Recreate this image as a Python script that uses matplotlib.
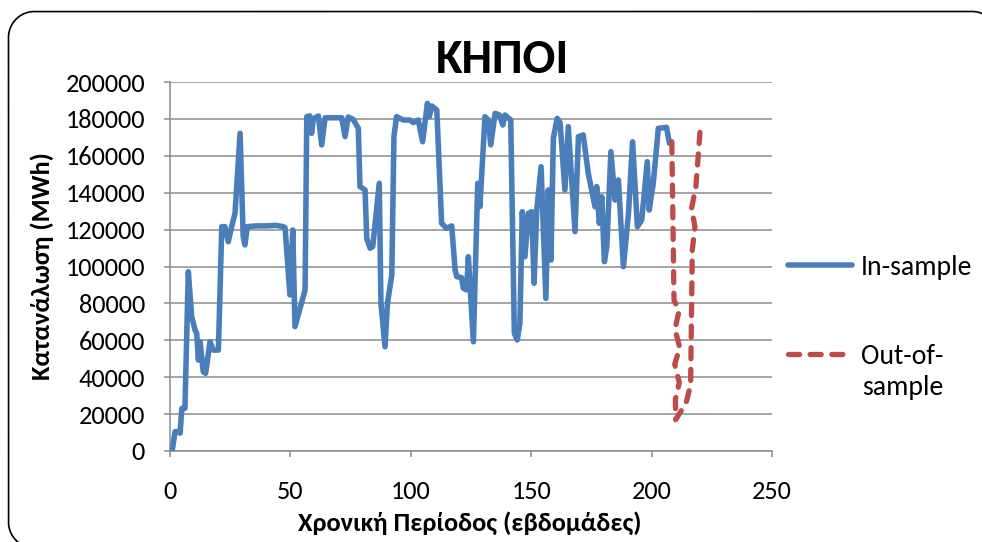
import numpy as np
import matplotlib
matplotlib.use("Agg")
import matplotlib.pyplot as plt
from matplotlib import font_manager
from matplotlib.lines import Line2D
from matplotlib.transforms import IdentityTransform

# ---- data ---------------------------------------------------------------
title = "ΚΗΠΟΙ"
x_label = "Χρονική Περίοδος (εβδομάδες)"
y_label = "Κατανάλωση (MWh)"
series_names = ["In-sample", "Out-of-", "sample"]

x_ticks = [0, 50, 100, 150, 200, 250]
y_ticks = [0, 20000, 40000, 60000, 80000, 100000, 120000, 140000,
           160000, 180000, 200000]

in_x = [1, 2.1, 3.5, 4.2, 4.9, 6.2, 7.6, 9.0, 10.4, 11.1, 11.8, 12.5, 13.8,
        14.8, 16.6, 18, 20.1, 21.5, 22.8, 24.2, 25.6, 27, 29.1, 30.4, 31.1,
        32.1, 36, 40, 44, 47, 47.8, 49.8, 51, 51.9, 56.1, 56.8, 58.1, 58.8,
        59.5, 61.6, 63, 64.4, 71.3, 72.7, 74, 76.1, 78.2, 78.9, 81, 81.7,
        83.1, 84.2, 86.9, 87.6, 89.3, 90.3, 92.1, 93, 94.1, 96.9, 99.7, 101,
        103.1, 104.9, 106.9, 107.7, 108.7, 110.8, 112.8, 114.9, 117, 118.4,
        119.1, 121.1, 121.8, 123.2, 123.9, 126, 127.8, 128.7, 130.8, 132.2,
        133.2, 135, 136.8, 138.2, 139.1, 141.5, 143, 144.2, 145.3, 146.3,
        147.4, 148.8, 150.2, 151.2, 152.3, 154.1, 156.1, 157.1, 158.2, 159.2,
        160.8, 162, 164, 165.4, 168.2, 169.6, 171.6, 173.7, 176.5, 177.2,
        178.3, 179.3, 180.4, 181.4, 183.1, 184.8, 186.2, 188.3, 190.4, 192.1,
        194.1, 195.9, 198.2, 199, 200.7, 202.8, 206.2, 207.4]
in_y = [1000, 10500, 10500, 9700, 23100, 23100, 97200, 72800, 65600, 63800,
        49300, 59200, 43000, 42100, 59200, 54700, 54700, 121600, 121600,
        113400, 121600, 128800, 172200, 116100, 111700, 121600, 122000,
        122000, 122300, 121600, 121000, 84600, 119800, 67400, 87300, 181200,
        181600, 172200, 180000, 181600, 165900, 180600, 180600, 170400,
        181000, 179700, 174900, 143300, 141500, 115300, 109900, 110800,
        145100, 80000, 56500, 80000, 95400, 170400, 181200, 179400, 179400,
        178000, 179400, 167600, 188400, 181200, 187000, 184800, 123400,
        120700, 122000, 98100, 94500, 94000, 88200, 87300, 105300, 59200,
        145100, 132400, 181200, 179400, 165900, 183000, 182100, 176700,
        182100, 179400, 63800, 60200, 69200, 129700, 105300, 128800, 129700,
        90900, 130600, 154100, 82700, 141500, 103500, 169500, 180300, 178000,
        141500, 175800, 118900, 170400, 171300, 150500, 132400, 143300,
        123400, 137800, 102600, 110700, 162200, 136000, 146900, 99900,
        128800, 167600, 121600, 125200, 156800, 130600, 145100, 174900,
        175400, 166800]

out_x = [208.4, 209.3, 211.4, 209.7, 211.7, 209.6, 211.5, 209.9, 210.0,
         214.3, 216.2, 216.9, 218.0, 216.6, 218.4, 220.1]
out_y = [167600, 81800, 76000, 66000, 56000, 47000, 37000, 28000, 17000,
         26000, 35800, 109000, 121600, 131500, 143300, 173100]

# ---- style --------------------------------------------------------------
BLUE = "#4a7ebb"
RED = "#be4b48"
GRID = "#8c8c8c"

available = {f.name for f in font_manager.fontManager.ttflist}
base_font = "Carlito" if "Carlito" in available else "Open Sans"
plt.rcParams["font.family"] = [base_font, "DejaVu Sans"]

W, H = 982, 542
fig = plt.figure(figsize=(W / 100, H / 100), dpi=100)
ax = fig.add_axes([170 / W, (H - 451) / H, 602 / W, 369 / H])

ax.plot(in_x, in_y, color=BLUE, lw=4.0, solid_joinstyle="round",
        solid_capstyle="round", label=series_names[0], zorder=3)
ax.plot(out_x, out_y, color=RED, lw=3.8, dashes=(2.1, 2.0),
        dash_capstyle="round", dash_joinstyle="round",
        label=series_names[1], zorder=3)

ax.set_xlim(0, 250)
ax.set_ylim(0, 200000)
ax.set_xticks(x_ticks)
ax.set_yticks(y_ticks)
ax.set_xticklabels([str(v) for v in x_ticks])
ax.set_yticklabels([str(v) for v in y_ticks])

ax.grid(axis="y", color=GRID, lw=1.1, zorder=0)
ax.set_axisbelow(True)
for side in ("top", "right"):
    ax.spines[side].set_visible(False)
for side in ("left", "bottom"):
    ax.spines[side].set_color(GRID)
    ax.spines[side].set_linewidth(1.1)
ax.tick_params(axis="both", direction="out", length=4, width=1.1,
               color=GRID, labelsize=19, labelcolor="black")
ax.tick_params(axis="y", pad=14)
ax.tick_params(axis="x", pad=17)

fig.text(502 / W, (H - 60) / H, title, ha="center", va="center",
         fontsize=35, fontweight="bold")
fig.text(470 / W, (H - 523) / H, x_label, ha="center", va="center",
         fontsize=19, fontweight="bold")
fig.text(42 / W, (H - 266) / H, y_label, ha="center", va="center",
         rotation=90, fontsize=19, fontweight="bold")

leg = ax.legend(loc="upper left", bbox_to_anchor=(788 / W, (H - 255) / H),
                bbox_transform=fig.transFigure, frameon=False,
                fontsize=20, handlelength=2.3, handletextpad=0.32,
                labelspacing=2.3, borderaxespad=0, borderpad=0)
# second line of the out-of-sample label, under its legend row
fig.text(862 / W, (H - 387) / H, series_names[2], ha="left", va="center",
         fontsize=20)

# rounded outer frame of the chart area (pixel coordinates, polyline)
left, right, top, bottom, r = 8.5, 998.0, H - 11.5, -6.0, 26.0
corners = [(right - r, top - r, 0, 90), (left + r, top - r, 90, 180),
           (left + r, bottom + r, 180, 270), (right - r, bottom + r, 270, 360)]
fx, fy = [], []
for cx, cy, a0, a1 in corners:
    t = np.radians(np.linspace(a0, a1, 40))
    fx.extend(cx + r * np.cos(t))
    fy.extend(cy + r * np.sin(t))
fx.append(fx[0])
fy.append(fy[0])
fig.add_artist(Line2D(fx, fy, transform=IdentityTransform(), color="black",
                      lw=1.2, solid_joinstyle="round"))

fig.savefig("out.png", dpi=100)
